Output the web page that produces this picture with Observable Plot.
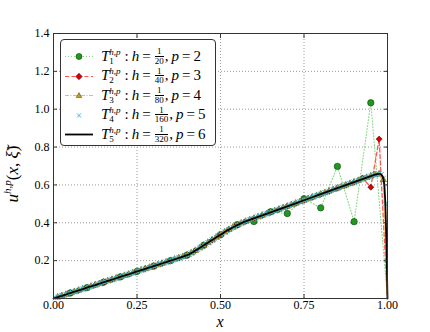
<!DOCTYPE html>
<html><head><meta charset="utf-8">
<script src="https://cdn.jsdelivr.net/npm/d3@7"></script>
<script src="https://cdn.jsdelivr.net/npm/@observablehq/plot@0.6"></script>
<style>
body{margin:0;background:#fff}
#wrap{position:relative;width:430px;height:332px}
#legend{position:absolute;left:60px;top:39px;width:156px;height:107px;border:1px solid #333;border-radius:4px;background:#fff;box-sizing:border-box;font-family:"Liberation Serif","DejaVu Serif",serif;font-size:15px;color:#000}
.row{position:absolute;left:0;height:20px;width:154px}
.row svg{position:absolute;left:3px;top:0}
.txt{position:absolute;left:40px;top:0;height:20px;display:flex;align-items:center;white-space:nowrap}
.ss{display:inline-flex;flex-direction:column;font-size:9px;line-height:9px;margin-right:4px;margin-top:1px}
.frac{display:inline-flex;flex-direction:column;align-items:center;font-size:9px;line-height:8.5px;margin:0 1px}
.frac .den{border-top:0.8px solid #000}
.gap{display:inline-block;width:3px}
i{font-style:italic}
</style>
</head><body>
<div id="wrap"></div>
<script>
// x ticks / y ticks
const xTicks = [0, 0.25, 0.5, 0.75, 1.0];
const yTicks = [0.2, 0.4, 0.6, 0.8, 1.0, 1.2, 1.4];

// T1: h = 1/20, p = 2  (nodes at x = i/20)
const u1 = [0.000, 0.029, 0.057, 0.086, 0.114, 0.143, 0.171, 0.200, 0.229, 0.281, 0.337,
            0.390, 0.407, 0.458, 0.449, 0.527, 0.479, 0.698, 0.406, 1.034, 0.000];
// T2: h = 1/40, p = 3
const u2 = [0.000, 0.014, 0.029, 0.043, 0.057, 0.071, 0.086, 0.100, 0.114, 0.128, 0.143,
            0.157, 0.171, 0.185, 0.200, 0.214, 0.229, 0.253, 0.281, 0.309, 0.337,
            0.364, 0.388, 0.407, 0.423, 0.439, 0.455, 0.471, 0.487, 0.503, 0.519,
            0.535, 0.551, 0.567, 0.583, 0.599, 0.615, 0.637, 0.588, 0.842, 0.000];
// T3: h = 1/80, p = 4
const u3 = [0.000, 0.007, 0.014, 0.021, 0.029, 0.036, 0.043, 0.050, 0.057, 0.064, 0.071,
            0.078, 0.086, 0.093, 0.100, 0.107, 0.114, 0.121, 0.128, 0.135, 0.143,
            0.150, 0.157, 0.164, 0.171, 0.178, 0.185, 0.192, 0.200, 0.207, 0.214,
            0.221, 0.229, 0.240, 0.253, 0.267, 0.281, 0.295, 0.309, 0.323, 0.337,
            0.351, 0.364, 0.376, 0.388, 0.398, 0.407, 0.415, 0.423, 0.431, 0.439,
            0.447, 0.455, 0.463, 0.471, 0.479, 0.487, 0.495, 0.503, 0.511, 0.519,
            0.527, 0.535, 0.543, 0.551, 0.559, 0.567, 0.575, 0.583, 0.591, 0.599,
            0.607, 0.615, 0.623, 0.631, 0.639, 0.647, 0.654, 0.658, 0.627, 0.000];
// T4: h = 1/160, p = 5
const u4 = [0.000, 0.004, 0.007, 0.011, 0.014, 0.018, 0.021, 0.025, 0.029, 0.032, 0.036,
            0.039, 0.043, 0.046, 0.050, 0.053, 0.057, 0.061, 0.064, 0.068, 0.071,
            0.075, 0.078, 0.082, 0.086, 0.089, 0.093, 0.096, 0.100, 0.103, 0.107,
            0.110, 0.114, 0.118, 0.121, 0.125, 0.128, 0.132, 0.135, 0.139, 0.143,
            0.146, 0.150, 0.153, 0.157, 0.160, 0.164, 0.167, 0.171, 0.175, 0.178,
            0.182, 0.185, 0.189, 0.192, 0.196, 0.200, 0.203, 0.207, 0.210, 0.214,
            0.217, 0.221, 0.225, 0.229, 0.234, 0.240, 0.246, 0.253, 0.260, 0.267,
            0.274, 0.281, 0.288, 0.295, 0.302, 0.309, 0.316, 0.323, 0.330, 0.337,
            0.344, 0.351, 0.358, 0.364, 0.370, 0.376, 0.382, 0.388, 0.393, 0.398,
            0.403, 0.407, 0.411, 0.415, 0.419, 0.423, 0.427, 0.431, 0.435, 0.439,
            0.443, 0.447, 0.451, 0.455, 0.459, 0.463, 0.467, 0.471, 0.475, 0.479,
            0.483, 0.487, 0.491, 0.495, 0.499, 0.503, 0.507, 0.511, 0.515, 0.519,
            0.523, 0.527, 0.531, 0.535, 0.539, 0.543, 0.547, 0.551, 0.555, 0.559,
            0.563, 0.567, 0.571, 0.575, 0.579, 0.583, 0.587, 0.591, 0.595, 0.599,
            0.603, 0.607, 0.611, 0.615, 0.619, 0.623, 0.627, 0.631, 0.635, 0.639,
            0.643, 0.647, 0.651, 0.654, 0.657, 0.658, 0.655, 0.635, 0.500, 0.000];
// T5: h = 1/320, p = 6 -- boundary-layer tail (the rest follows T4 nodes)
const tail5X = [0.978125, 0.98125, 0.984375, 0.9875, 0.990625, 0.99375, 0.996875, 1.0];
const tail5U = [0.658, 0.655, 0.648, 0.635, 0.600, 0.500, 0.290, 0.000];

const s1 = u1.map((u, i) => ({x: i / 20, u}));
const s2 = u2.map((u, i) => ({x: i / 40, u}));
const s3 = u3.map((u, i) => ({x: i / 80, u}));
const s4 = u4.map((u, i) => ({x: i / 160, u}));
const s5 = s4.filter(d => d.x <= 0.975).concat(tail5X.map((x, i) => ({x, u: tail5U[i]})));
const inner = s => s.filter(d => d.x > 0 && d.x < 1);

const C = {
  g: "#86d886", gFill: "#1f9a1f", gEdge: "#0b3d0b",
  r: "#ff5555", rFill: "#e00000", rEdge: "#4a0000",
  y: "#ffb833", yFill: "#c89a10", yEdge: "#4a3a00",
  c: "#3cb8c8", k: "#000"
};
const FONT = "'Liberation Serif', 'DejaVu Serif', serif";

const plot = Plot.plot({
  width: 430, height: 332,
  marginLeft: 53, marginRight: 43, marginTop: 33, marginBottom: 34,
  x: {domain: [0, 1]},
  y: {domain: [0, 1.4]},
  style: {fontFamily: FONT, fontSize: "12px", background: "#fff"},
  marks: [
    Plot.gridX(xTicks, {stroke: "#9a9a9a", strokeOpacity: 1, strokeDasharray: "1,2"}),
    Plot.gridY(yTicks, {stroke: "#9a9a9a", strokeOpacity: 1, strokeDasharray: "1,2"}),
    Plot.line(s1, {x: "x", y: "u", stroke: C.g, strokeWidth: 1.1, strokeDasharray: "1,2"}),
    Plot.dot(inner(s1), {x: "x", y: "u", r: 3.2, fill: C.gFill, stroke: C.gEdge, strokeWidth: 0.6}),
    Plot.line(s2, {x: "x", y: "u", stroke: C.r, strokeWidth: 1.3, strokeDasharray: "4,2.5"}),
    Plot.dot(inner(s2), {x: "x", y: "u", symbol: "diamond2", r: 2.7, fill: C.rFill, stroke: C.rEdge, strokeWidth: 0.6}),
    Plot.line(s3, {x: "x", y: "u", stroke: C.y, strokeWidth: 1.1, strokeDasharray: "4,1.5,1,1.5"}),
    Plot.dot(inner(s3), {x: "x", y: "u", symbol: "triangle", r: 2.4, fill: C.yFill, stroke: C.yEdge, strokeWidth: 0.5}),
    Plot.dot(inner(s4), {x: "x", y: "u", symbol: "times", r: 2.4, stroke: C.c, strokeWidth: 1}),
    Plot.line(s5, {x: "x", y: "u", stroke: C.k, strokeWidth: 1.8}),
    Plot.frame({stroke: "#333"}),
    Plot.axisX(xTicks, {anchor: "bottom", tickSize: 4, dy: -4, tickFormat: () => "", label: null, stroke: "#333"}),
    Plot.axisX(xTicks, {anchor: "top", tickSize: 4, dy: 4, tickFormat: () => "", label: null, stroke: "#333"}),
    Plot.axisY(yTicks, {anchor: "left", tickSize: 4, dx: 4, tickFormat: () => "", label: null, stroke: "#333"}),
    Plot.axisY(yTicks, {anchor: "right", tickSize: 4, dx: -4, tickFormat: () => "", label: null, stroke: "#333"}),
    Plot.axisX(xTicks, {anchor: "bottom", tickSize: 0, tickPadding: 2, tickFormat: d3.format(".2f"), label: null, fill: "#000", fontFamily: FONT}),
    Plot.axisY(yTicks, {anchor: "left", tickSize: 0, tickPadding: 4, tickFormat: d3.format(".1f"), label: null, fill: "#000", fontFamily: FONT})
  ]
});

const svg = d3.select(plot);
// x label
svg.append("text").attr("x", 220).attr("y", 327)
  .attr("text-anchor", "middle").attr("font-family", FONT)
  .attr("font-size", 16).attr("font-style", "italic").text("x");
// y label
const yl = svg.append("text").attr("transform", "translate(18,174) rotate(-90)")
  .attr("text-anchor", "middle").attr("font-family", FONT).attr("font-size", 17);
yl.append("tspan").attr("font-style", "italic").text("u");
yl.append("tspan").attr("font-style", "italic").attr("font-size", 11).attr("dy", -7).text("h,p");
yl.append("tspan").attr("dy", 7).text("(");
yl.append("tspan").attr("font-style", "italic").text("x");
yl.append("tspan").text(", ");
yl.append("tspan").attr("font-style", "italic").text("\u03BE\u0303");
yl.append("tspan").text(")");

const wrap = document.getElementById("wrap");
wrap.appendChild(plot);

// legend
const legendItems = [
  {k: 1, den: "20", p: 2, line: C.g, dash: "1,2", mark: "circle", fill: C.gFill, edge: C.gEdge},
  {k: 2, den: "40", p: 3, line: C.r, dash: "4,2.5", mark: "diamond", fill: C.rFill, edge: C.rEdge},
  {k: 3, den: "80", p: 4, line: C.y, dash: "4,1.5,1,1.5", mark: "triangle", fill: C.yFill, edge: C.yEdge},
  {k: 4, den: "160", p: 5, line: null, mark: "times", fill: "none", edge: C.c},
  {k: 5, den: "320", p: 6, line: C.k, dash: null, mark: null}
];
const leg = document.createElement("div");
leg.id = "legend";
legendItems.forEach((it, i) => {
  const row = document.createElement("div");
  row.className = "row";
  row.style.top = (6 + i * 19.6) + "px";
  let s = `<svg width="30" height="20" viewBox="0 0 30 20">`;
  if (it.line) s += `<line x1="1" y1="10.5" x2="29" y2="10.5" stroke="${it.line}" stroke-width="${it.k === 5 ? 1.8 : 1.2}" ${it.dash ? `stroke-dasharray="${it.dash}"` : ""}/>`;
  if (it.mark === "circle") s += `<circle cx="15" cy="10.5" r="3" fill="${it.fill}" stroke="${it.edge}" stroke-width="0.6"/>`;
  if (it.mark === "diamond") s += `<path d="M15,7.3L18.2,10.5L15,13.7L11.8,10.5Z" fill="${it.fill}" stroke="${it.edge}" stroke-width="0.6"/>`;
  if (it.mark === "triangle") s += `<path d="M15,7.6L17.8,12.6L12.2,12.6Z" fill="${it.fill}" stroke="${it.edge}" stroke-width="0.5"/>`;
  if (it.mark === "times") s += `<path d="M13,8.5L17,12.5M17,8.5L13,12.5" stroke="${it.edge}" stroke-width="1"/>`;
  s += `</svg>`;
  row.innerHTML = s + `<div class="txt"><i>T</i><span class="ss"><span><i>h,p</i></span><span>${it.k}</span></span>:<span class="gap"></span><i>h</i><span class="gap"></span>=<span class="gap"></span><span class="frac"><span>1</span><span class="den">${it.den}</span></span>,<span class="gap"></span><i>p</i><span class="gap"></span>=<span class="gap"></span>${it.p}</div>`;
  leg.appendChild(row);
});
wrap.appendChild(leg);
</script>
</body></html>
